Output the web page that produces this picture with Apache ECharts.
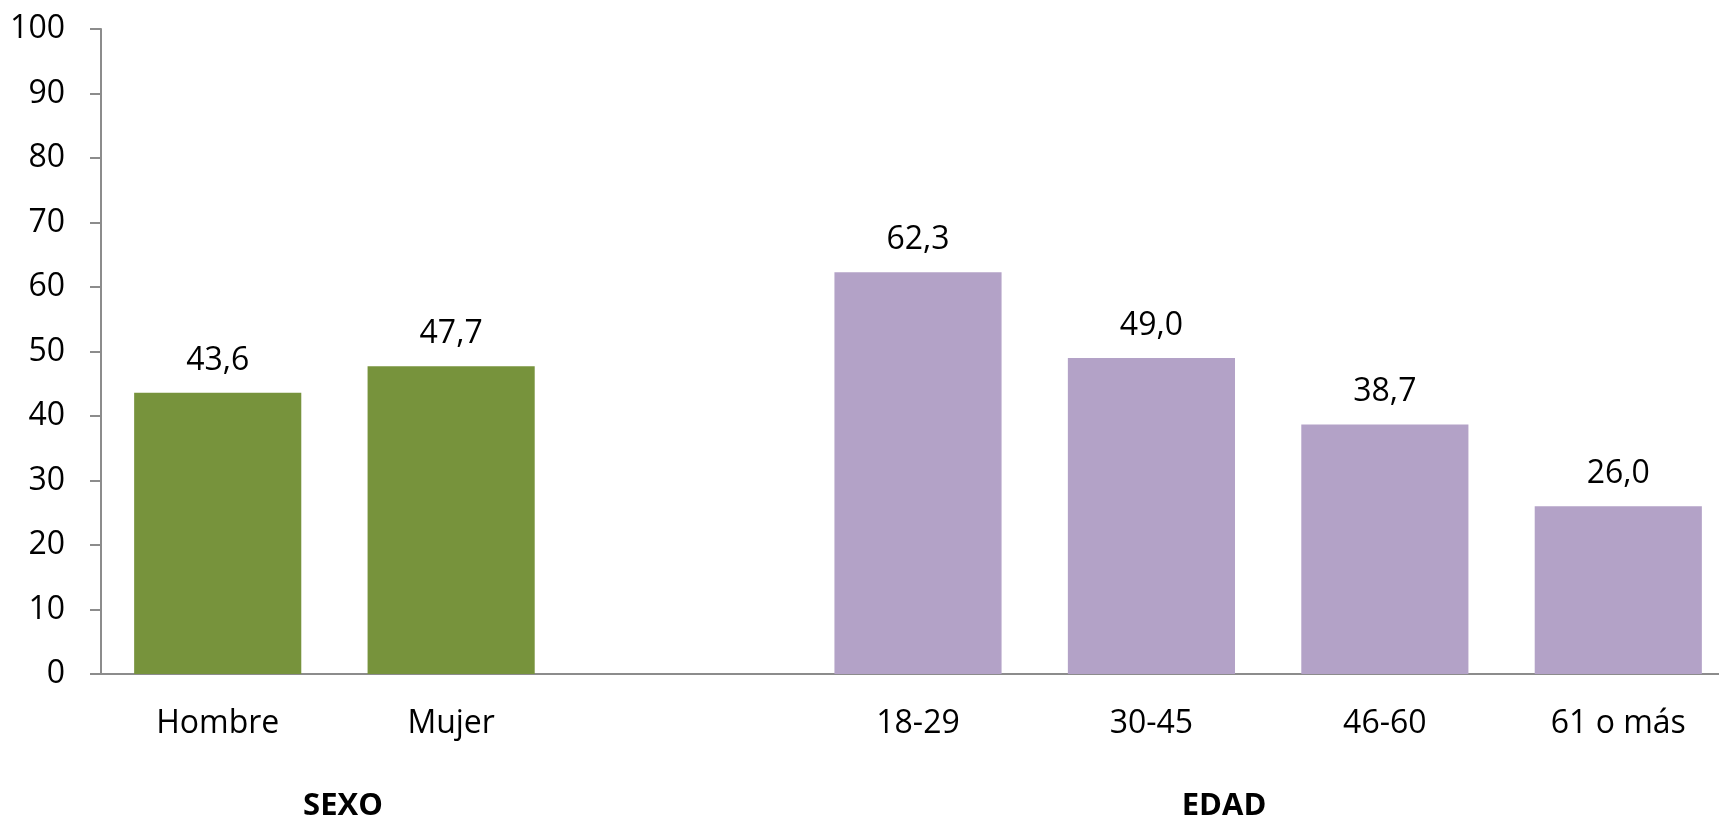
<!DOCTYPE html>
<html>
<head>
<meta charset="utf-8">
<script src="https://cdn.jsdelivr.net/npm/echarts@6/dist/echarts.min.js"></script>
<style>
html,body{margin:0;padding:0;background:#fff;overflow:hidden;width:1719px;height:819px;}
#chart{width:1735px;height:819px;}
</style>
</head>
<body>
<div id="chart"></div>
<script>
const categories = ['Hombre', 'Mujer', '', '18-29', '30-45', '46-60', '61 o más'];
const values = [43.6, 47.7, null, 62.3, 49.0, 38.7, 26.0];
const groupOfCategory = ['SEXO', 'SEXO', '', 'EDAD', 'EDAD', 'EDAD', 'EDAD'];
const groupColors = { SEXO: '#77933C', EDAD: '#B3A2C7' };
const groupTitles = ['SEXO', 'EDAD'];
const yTicks = { min: 0, max: 100, interval: 10 };

const FONT = '"Open Sans", sans-serif';
const chart = echarts.init(document.getElementById('chart'), null, { renderer: 'canvas' });

const seriesData = values.map((v, i) => v == null ? '-' : ({
  value: v,
  itemStyle: { color: groupColors[groupOfCategory[i]] }
}));

const titleCenters = { SEXO: 343, EDAD: 1224 };

chart.setOption({
  animation: false,
  backgroundColor: '#ffffff',
  grid: { left: 101, right: 0, top: 29, bottom: 145, containLabel: false },
  xAxis: {
    type: 'category',
    data: categories,
    axisLine: { show: true, lineStyle: { color: '#8c8c8c', width: 2 } },
    axisTick: { show: false },
    axisLabel: { color: '#000', fontFamily: FONT, fontSize: 32, margin: 34, interval: 0 }
  },
  yAxis: {
    type: 'value',
    min: yTicks.min, max: yTicks.max, interval: yTicks.interval,
    splitLine: { show: false },
    axisLine: { show: true, lineStyle: { color: '#8c8c8c', width: 2 } },
    axisTick: { show: true, length: 11, lineStyle: { color: '#8c8c8c', width: 2 } },
    axisLabel: { color: '#000', fontFamily: FONT, fontSize: 32, margin: 36 }
  },
  series: [{
    type: 'bar',
    data: seriesData,
    barCategoryGap: '28.4%',
    label: {
      show: true,
      position: 'top',
      distance: 16,
      color: '#000',
      fontFamily: FONT,
      fontSize: 32,
      formatter: p => p.value.toFixed(1).replace('.', ',')
    }
  }],
  graphic: groupTitles.map(t => ({
    type: 'text',
    x: titleCenters[t],
    y: 806,
    style: { text: t, font: 'bold 31px ' + FONT, fill: '#000', align: 'center', verticalAlign: 'middle' }
  }))
});
</script>
</body>
</html>
